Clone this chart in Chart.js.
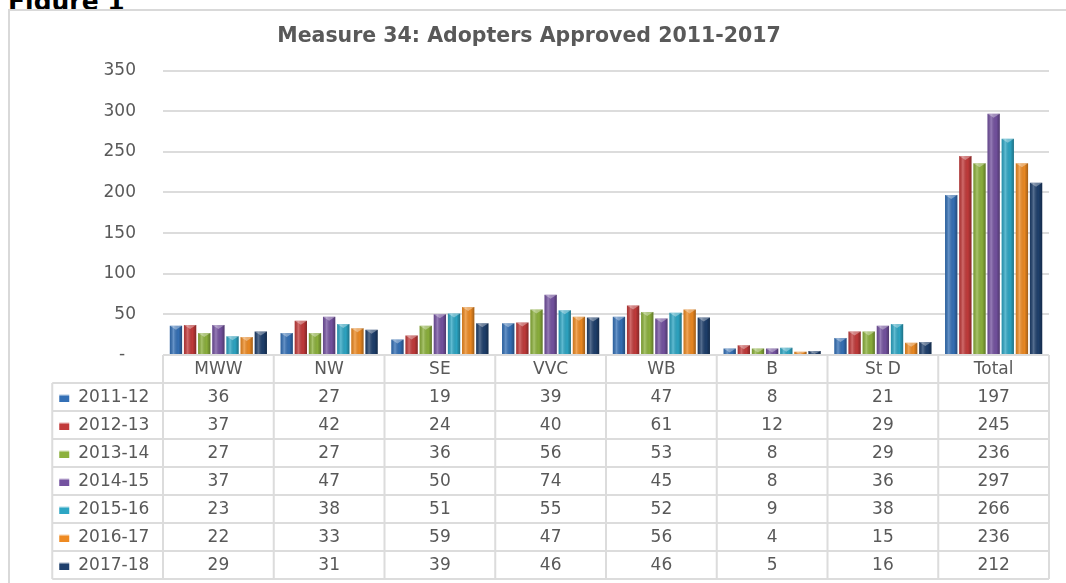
<!DOCTYPE html>
<html>
<head>
<meta charset="utf-8">
<script src="https://cdn.jsdelivr.net/npm/chart.js"></script>
<style>
  html, body { margin: 0; padding: 0; background: #fff; overflow: hidden; }
  body { width: 1066px; height: 583px; position: relative; }
  #figLabel {
    position: absolute; left: 8px; top: -11px;
    font: bold 25px "DejaVu Sans", sans-serif; line-height: 1; color: #000;
  }
  #frame {
    position: absolute; left: 8px; top: 9px; width: 1080px; height: 600px;
    border: 2px solid #d9d9d9; background: #fff;
  }
  #box { position: absolute; left: 9px; top: 10px; width: 1054px; height: 573px; }
</style>
</head>
<body>
<div id="figLabel">Figure 1</div>
<div id="frame"></div>
<div id="box"><canvas id="adopters"></canvas></div>
<script>
// Kategoriler ve seriler
const categories = ["MWW", "NW", "SE", "VVC", "WB", "B", "St D", "Total"];
const years = ["2011-12", "2012-13", "2013-14", "2014-15", "2015-16", "2016-17", "2017-18"];

const y2011 = [36, 27, 19, 39, 47, 8, 21, 197];
const y2012 = [37, 42, 24, 40, 61, 12, 29, 245];
const y2013 = [27, 27, 36, 56, 53, 8, 29, 236];
const y2014 = [37, 47, 50, 74, 45, 8, 36, 297];
const y2015 = [23, 38, 51, 55, 52, 9, 38, 266];
const y2016 = [22, 33, 59, 47, 56, 4, 15, 236];
const y2017 = [29, 31, 39, 46, 46, 5, 16, 212];

const yTicks = [0, 50, 100, 150, 200, 250, 300, 350];

const seriesValues = [y2011, y2012, y2013, y2014, y2015, y2016, y2017];
const colors = ["#3470b6", "#c23a3a", "#8cb13c", "#7452a0", "#2da6c4", "#ee8a22", "#1e3f6c"];

const textColor = "#595959";
const lineColor = "#dcdcdc";
const tableFont = '17px "DejaVu Sans", sans-serif';
const rowH = 28;

// bar shading, drawn on top of the library's bars
const barShade = {
  id: "barShade",
  afterDatasetsDraw(chart) {
    const ctx = chart.ctx;
    ctx.save();
    chart.data.datasets.forEach((ds, i) => {
      chart.getDatasetMeta(i).data.forEach((bar) => {
        const p = bar.getProps(["x", "y", "base", "width"], true);
        const l = p.x - p.width / 2;
        const g = ctx.createLinearGradient(l, 0, l + p.width, 0);
        g.addColorStop(0, "rgba(0,0,0,0.12)");
        g.addColorStop(0.3, "rgba(255,255,255,0.25)");
        g.addColorStop(0.7, "rgba(0,0,0,0.02)");
        g.addColorStop(1, "rgba(0,0,0,0.32)");
        ctx.fillStyle = g;
        ctx.fillRect(l, p.y, p.width, p.base - p.y);
        // little light cap at the top
        const capH = Math.min(4, p.base - p.y);
        ctx.fillStyle = "rgba(255,255,255,0.35)";
        ctx.beginPath();
        ctx.moveTo(l, p.y);
        ctx.lineTo(l + p.width, p.y);
        ctx.lineTo(p.x, p.y + capH);
        ctx.closePath();
        ctx.fill();
      });
    });
    ctx.restore();
  },
};

// data table under the plot, aligned on the x scale
const dataTable = {
  id: "dataTable",
  afterDraw(chart) {
    const ctx = chart.ctx;
    const xs = chart.scales.x;
    const area = chart.chartArea;
    const colW = xs.getPixelForValue(1) - xs.getPixelForValue(0);
    const top = area.bottom;
    const bottom = top + rowH * (years.length + 1);
    const legendLeft = area.left - colW;

    ctx.save();
    ctx.strokeStyle = lineColor;
    ctx.lineWidth = 2;
    ctx.beginPath();
    // horizontal lines
    ctx.moveTo(area.left, top);
    ctx.lineTo(area.right, top);
    for (let k = 1; k <= years.length + 1; k++) {
      const y = top + rowH * k;
      ctx.moveTo(legendLeft, y);
      ctx.lineTo(area.right, y);
    }
    // vertical lines
    for (let i = 0; i <= categories.length; i++) {
      const x = xs.getPixelForValue(i) - colW / 2;
      ctx.moveTo(x, top);
      ctx.lineTo(x, bottom);
    }
    ctx.moveTo(legendLeft, top + rowH);
    ctx.lineTo(legendLeft, bottom);
    ctx.stroke();

    ctx.font = tableFont;
    ctx.fillStyle = textColor;
    ctx.textBaseline = "middle";
    ctx.textAlign = "center";
    categories.forEach((c, i) => {
      ctx.fillText(c, xs.getPixelForValue(i), top + rowH / 2 + 1);
    });

    years.forEach((yr, r) => {
      const cy = top + rowH * (r + 1.5) + 1;
      seriesValues[r].forEach((v, i) => {
        ctx.fillText(String(v), xs.getPixelForValue(i), cy);
      });
      // legend key
      const kx = legendLeft + 7;
      const g = ctx.createLinearGradient(0, cy - 4, 0, cy + 4);
      g.addColorStop(0, "#ffffff");
      g.addColorStop(0.3, colors[r]);
      g.addColorStop(1, colors[r]);
      ctx.fillStyle = g;
      ctx.fillRect(kx, cy - 4, 10, 8);
      ctx.fillStyle = textColor;
      ctx.textAlign = "left";
      ctx.fillText(yr, legendLeft + 26, cy);
      ctx.textAlign = "center";
    });
    ctx.restore();
  },
};

function grafikCiz() {
  const ctx = document.getElementById("adopters").getContext("2d");
  new Chart(ctx, {
    type: "bar",
    data: {
      labels: categories,
      datasets: years.map((yr, i) => ({
        label: yr,
        data: seriesValues[i],
        backgroundColor: colors[i],
        borderWidth: 0,
        categoryPercentage: 0.894,
        barPercentage: 0.87,
      })),
    },
    options: {
      responsive: true,
      maintainAspectRatio: false,
      devicePixelRatio: 1,
      animation: false,
      layout: { padding: { left: 0, right: 14, top: 0, bottom: 228 } },
      plugins: {
        legend: { display: false },
        tooltip: { enabled: false },
        title: {
          display: true,
          text: "Measure 34: Adopters Approved 2011-2017",
          color: textColor,
          font: { family: '"DejaVu Sans", sans-serif', size: 20.5, weight: "bold" },
          padding: { top: 14, bottom: 22 },
        },
      },
      scales: {
        x: { display: false },
        y: {
          min: 0,
          max: 350,
          afterFit(scale) { scale.width = 154; },
          afterBuildTicks(scale) { scale.ticks = yTicks.map((v) => ({ value: v })); },
          border: { display: false },
          grid: { color: lineColor, lineWidth: 2, drawTicks: false },
          ticks: {
            padding: 27,
            color: textColor,
            font: { family: '"DejaVu Sans", sans-serif', size: 17 },
            callback: (v) => (v === 0 ? "-  " : v),
          },
        },
      },
    },
    plugins: [barShade, dataTable],
  });
}

document.addEventListener("DOMContentLoaded", grafikCiz);
</script>
</body>
</html>
